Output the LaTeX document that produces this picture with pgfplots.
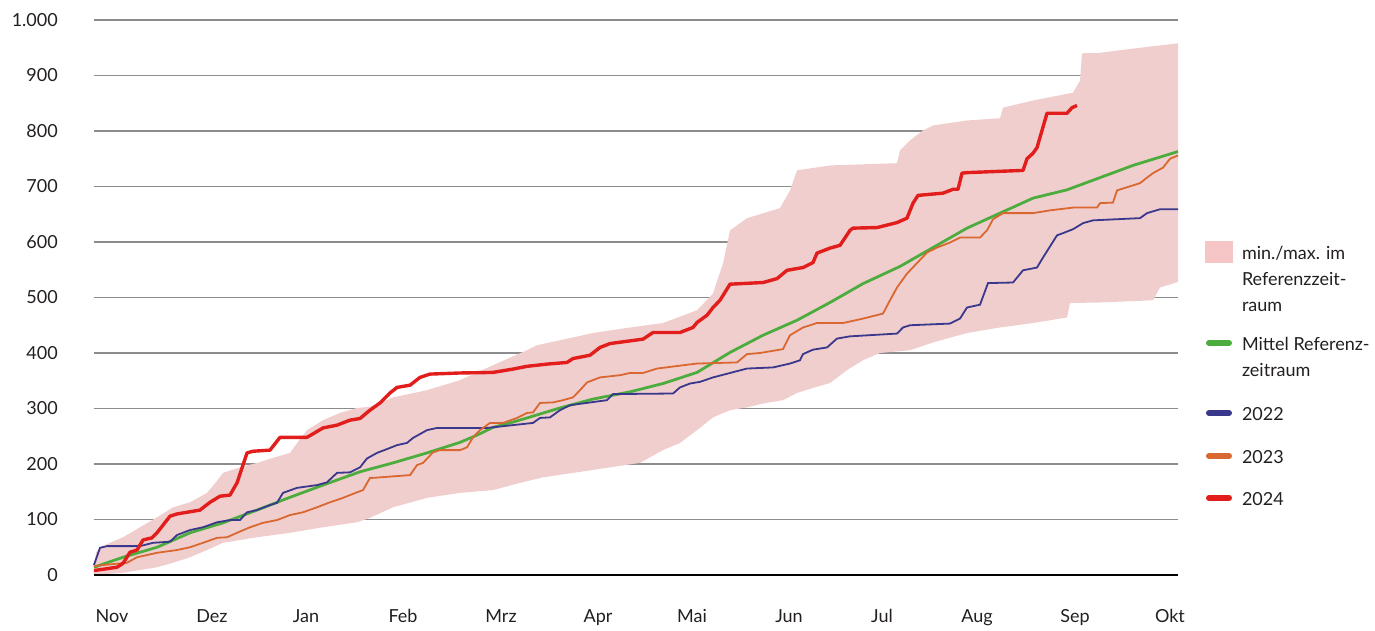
\documentclass[border=0pt]{standalone}
\usepackage{pgfplots}
\pgfplotsset{compat=1.18}
\usepackage{fontspec}
\setmainfont{Lato}
\definecolor{bandfill}{RGB}{241,206,206}
\definecolor{legband}{RGB}{246,198,198}
\definecolor{meangreen}{RGB}{76,172,62}
\definecolor{y22}{RGB}{58,56,140}
\definecolor{y23}{RGB}{216,104,48}
\definecolor{y24}{RGB}{226,30,28}
\definecolor{txt}{RGB}{35,31,32}
\definecolor{gridc}{RGB}{140,140,140}
\begin{document}
\begin{tikzpicture}[font=\fontsize{18}{26}\selectfont, text=txt]
\begin{axis}[
  scale only axis,
  width=1084pt, height=555pt,
  xmin=94, xmax=1178, ymin=0, ymax=1000,
  clip=false,
  axis line style={draw=none},
  major tick length=0pt,
  xtick={112,212,306,403,501,598,692,789,882,977,1075,1170},
  xticklabels={Nov,Dez,Jan,Feb,Mrz,Apr,Mai,Jun,Jul,Aug,Sep,Okt},
  ytick={100,200,...,1000},
  yticklabels={100,200,300,400,500,600,700,800,900,1.000},
  extra y ticks={0},
  extra y tick labels={0},
  ymajorgrids,
  grid style={gridc, line width=1.5pt},
  xticklabel style={anchor=north, inner sep=0pt, yshift=-34pt, font=\fontsize{18}{26}\selectfont},
  yticklabel style={anchor=east, inner sep=0pt, xshift=-36pt, font=\fontsize{18}{26}\selectfont},
  legend style={draw=none, fill=none, at={(1.0249,0.6054)}, anchor=north west,
    inner sep=0pt, outer sep=0pt, row sep=0pt, column sep=9pt,
    cells={anchor=base west}, nodes={inner sep=0pt},
    font=\fontsize{18}{26}\selectfont},
]
% min/max band: upper boundary forward, lower boundary backward
\addplot[fill=bandfill, draw=none,
  legend image code/.code={\fill[legband] (0pt,-4pt) rectangle (28pt,18pt); \path[draw=none,fill=none] (0pt,-71pt) rectangle (28pt,20pt);}]
coordinates {
(94,20)(96,40)(100,50)(110,58)(123,68)(140,86)(157,104)(173,122)(190,131)(207,148)(215,165)(223,184)(240,194)(257,202)(273,211)(290,220)(300,245)(307,261)(323,279)(340,292)(357,301)(370,303)(393,320)(427,333)(460,351)(493,378)(527,405)(537,414)(560,423)(593,436)(630,446)(663,454)(697,477)(713,507)(718,535)(723,561)(730,621)(747,643)(780,661)(790,693)(797,729)(830,738)(897,742)(900,765)(910,783)(923,801)(933,810)(967,819)(1000,823)(1003,842)(1033,855)(1073,869)(1080,891)(1082,940)(1100,941)(1140,950)(1178,958)
(1178,528)(1160,518)(1153,495)(1100,491)(1070,490)(1067,464)(1033,454)(1000,446)(967,436)(933,419)(910,405)(880,400)(863,387)(847,369)(830,346)(813,337)(797,328)(783,315)(763,309)(747,302)(730,297)(713,284)(697,261)(680,238)(663,225)(640,202)(610,194)(577,185)(543,176)(520,166)(493,153)(460,148)(427,139)(393,122)(370,103)(357,95)(323,86)(290,76)(257,68)(223,58)(207,45)(190,32)(173,22)(157,14)(123,4)(94,0)
} -- cycle;
\addlegendentry{\parbox[t]{125pt}{min./max. im\\Referenzzeit-\\raum}}
% zero line
\addplot[black, line width=1.8pt, forget plot] coordinates {(94,0)(1178,0)};
% mean
\addplot[meangreen, line width=2.8pt,
  legend image code/.code={\draw[meangreen, line width=6pt, line cap=round] (4pt,7pt) -- (24pt,7pt); \path[draw=none,fill=none] (0pt,-50pt) rectangle (28pt,20pt);}]
coordinates {
(94,14)(123,32)(157,50)(190,76)(223,94)(257,117)(290,140)(323,162)(360,186)(393,202)(427,220)(460,239)(477,252)(493,266)(510,274)(527,283)(560,301)(593,317)(630,330)(663,345)(697,365)(730,401)(763,432)(797,459)(830,491)(863,525)(900,556)(933,590)(967,625)(1000,652)(1033,679)(1067,694)(1100,716)(1133,738)(1178,763)
};
\addlegendentry{\parbox[t]{125pt}{\mbox{Mittel Referenz-}\\zeitraum}}
% 2022
\addplot[y22, line width=1.8pt,
  legend image code/.code={\draw[y22, line width=6pt, line cap=round] (4pt,7pt) -- (24pt,7pt); \path[draw=none,fill=none] (0pt,-23pt) rectangle (28pt,20pt);}]
coordinates {
(94,18)(100,49)(107,52)(140,52)(153,58)(170,60)(177,72)(190,81)(203,86)(217,95)(230,99)(240,99)(247,113)(257,117)(270,126)(277,130)(283,148)(297,157)(317,162)(327,167)(337,184)(350,185)(360,194)(367,210)(377,220)(390,229)(397,234)(407,238)(413,247)(427,261)(437,265)(487,265)(533,274)(540,283)(550,284)(560,297)(570,306)(607,315)(613,326)(673,327)(680,338)(690,345)(700,348)(713,356)(730,364)(747,372)(773,374)(790,381)(800,387)(803,398)(813,406)(827,410)(837,426)(850,430)(897,435)(903,446)(910,450)(950,453)(960,462)(967,482)(980,487)(988,526)(1013,527)(1023,549)(1037,554)(1043,572)(1057,612)(1063,616)(1073,623)(1083,634)(1093,639)(1140,643)(1147,652)(1160,659)(1178,659)
};
\addlegendentry{2022}
% 2023
\addplot[y23, line width=1.8pt,
  legend image code/.code={\draw[y23, line width=6pt, line cap=round] (4pt,7pt) -- (24pt,7pt); \path[draw=none,fill=none] (0pt,-22pt) rectangle (28pt,20pt);}]
coordinates {
(94,16)(103,18)(127,22)(137,32)(157,40)(177,45)(190,50)(203,58)(217,67)(227,68)(237,76)(250,86)(263,94)(277,99)(290,108)(303,113)(317,122)(330,131)(343,139)(357,149)(363,153)(370,175)(373,175)(410,180)(417,198)(423,202)(433,221)(440,225)(460,225)(467,230)(473,248)(480,261)(490,274)(503,274)(517,283)(527,292)(533,293)(540,310)(553,311)(563,315)(573,320)(580,333)(587,347)(600,356)(620,360)(630,364)(643,364)(657,372)(697,381)(737,383)(747,398)(760,400)(783,407)(790,432)(803,446)(817,454)(843,454)(863,462)(883,471)(890,495)(897,518)(907,543)(917,562)(927,581)(937,590)(950,599)(960,608)(980,608)(987,621)(993,641)(1003,652)(1033,652)(1050,657)(1073,662)(1097,662)(1100,670)(1113,671)(1117,693)(1133,702)(1140,706)(1147,716)(1153,724)(1163,734)(1170,750)(1178,756)
};
\addlegendentry{2023}
% 2024
\addplot[y24, line width=3.4pt, line join=round,
  legend image code/.code={\draw[y24, line width=6pt, line cap=round] (4pt,7pt) -- (24pt,7pt); \path[draw=none,fill=none] (0pt,-8pt) rectangle (28pt,20pt);}]
coordinates {
(94,8)(117,14)(123,21)(130,41)(137,45)(143,63)(152,67)(157,76)(170,106)(177,110)(200,117)(210,131)(220,142)(230,144)(237,166)(247,220)(253,223)(270,225)(280,248)(307,248)(323,265)(337,270)(350,279)(360,282)(370,297)(380,310)(390,328)(397,338)(410,342)(420,356)(430,362)(460,364)(493,365)(513,371)(527,376)(547,380)(567,383)(573,390)(590,396)(600,410)(610,417)(643,425)(653,437)(680,437)(693,446)(697,455)(707,468)(713,482)(720,495)(730,524)(763,527)(777,534)(787,549)(803,554)(813,563)(817,580)(830,589)(840,594)(850,621)(853,625)(877,626)(897,635)(907,643)(913,670)(918,684)(943,688)(953,695)(958,695)(962,724)(967,725)(1023,729)(1027,750)(1033,760)(1037,770)(1047,832)(1067,832)(1072,842)(1077,846)
};
\addlegendentry{2024}
\end{axis}
\path (current axis.south west) ++(-94pt,-55pt) rectangle ++(1375pt,630pt);
\end{tikzpicture}
\end{document}
